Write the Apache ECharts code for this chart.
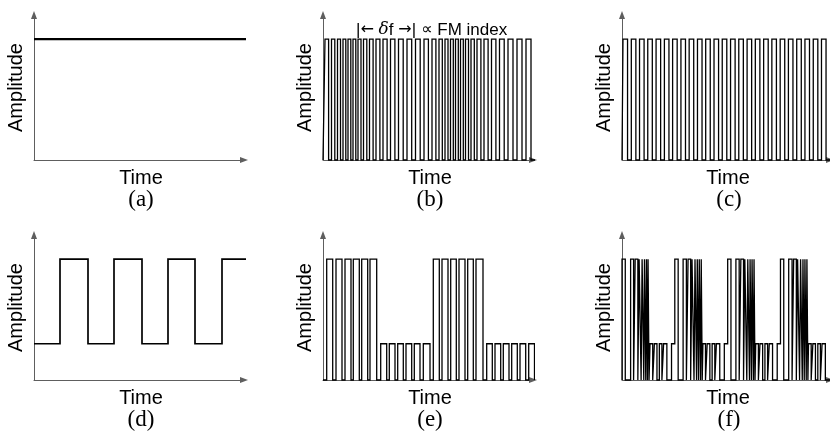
<!DOCTYPE html>
<html>
<head>
<meta charset="utf-8">
<script src="https://cdn.jsdelivr.net/npm/echarts@6/dist/echarts.min.js"></script>
<style>html,body{margin:0;padding:0;background:#fff;}#chart{width:830px;height:437px;}</style>
</head>
<body>
<div id="chart"></div>
<script>
// ---- data (time units ~ arbitrary, amplitude: 1 = full, 0.3 = reduced) ----
const panelLabels = ['(a)', '(b)', '(c)', '(d)', '(e)', '(f)'];
const xAxisName = 'Time';
const yAxisName = 'Amplitude';

// (a) constant amplitude: change times and levels
const aT = [0, 214];
const aA = [1, 1];

// (b) FM square wave: rising / falling edge times
const bRise = [2, 8.5, 14.5, 20, 25, 30, 35, 40.5, 46.5, 53, 60, 67.5, 75.5, 84, 92.5, 101, 109, 116, 122, 127.5, 132.5, 137.5, 142.5, 148, 154, 161, 168.5, 176.5, 185, 194, 203];
const bFall = [5.6, 11.8, 17.5, 22.8, 27.8, 32.8, 38, 43.8, 50.1, 56.9, 64.1, 71.9, 80.2, 88.7, 97.2, 105.4, 112.9, 119.3, 125, 130.3, 135.3, 140.3, 145.5, 151.3, 157.9, 165.1, 172.9, 181.2, 190, 199, 208];

// (c) carrier square wave
const cRise = [1, 9.4, 17.7, 26, 34.4, 42.8, 51.1, 59.5, 67.8, 76.2, 84.5, 92.9, 101.2, 109.6, 117.9, 126.3, 134.6, 143, 151.3, 159.7, 168, 176.4, 184.7, 193.1, 201.4];
const cFall = [5.6, 14, 22.3, 30.6, 39, 47.4, 55.7, 64.1, 72.4, 80.8, 89.1, 97.5, 105.8, 114.2, 122.5, 130.9, 139.2, 147.6, 155.9, 164.3, 172.6, 181, 189.3, 197.7, 206];

// (d) modulating square wave: change times and levels
const dT = [0, 26, 54, 80, 108, 134, 161, 188, 214];
const dA = [0.3, 1, 0.3, 1, 0.3, 1, 0.3, 1, 1];

// (e) AM square wave
const eRise = [3.7, 13, 22, 30.3, 38.7, 47, 57.7, 66.3, 74.7, 83, 91.3, 100.3, 110.3, 119, 127.7, 136, 144.7, 153, 163.7, 172, 180.3, 188.7, 197, 205.7];
const eFall = [9.7, 19, 28, 36.3, 44.7, 53.7, 63.7, 72, 80.3, 88.7, 97, 107, 116.3, 125, 133.3, 142, 150.3, 160, 169.3, 177.7, 186, 194.3, 202.7, 211.5];
const eAmp  = [1, 1, 1, 1, 1, 1, 0.3, 0.3, 0.3, 0.3, 0.3, 0.3, 1, 1, 1, 1, 1, 1, 0.3, 0.3, 0.3, 0.3, 0.3, 0.3];

// (f) combined AM + FM
const fRise = [0, 8.7, 13.3, 17.3, 20.3, 22.7, 24.7, 26.3, 28.3, 32.7, 37.7, 42, 50,
  53.3, 61.7, 66.7, 70.7, 73.7, 76, 78, 80, 81.7, 86, 91, 95.3, 103.3,
  106.7, 115, 120, 124, 127, 129.3, 131.3, 133.3, 135, 139.3, 144.3, 148.7, 156.7,
  160, 168.3, 173.3, 177.3, 180.3, 182.7, 184.7, 186.7, 188.3, 192.7, 197.7, 202];
const fFall = [3.3, 11.7, 16, 19.3, 22, 24, 25.7, 27.3, 31, 35.3, 40.3, 45.3, 53.3,
  56.7, 65, 69.3, 72.7, 75.3, 77.3, 79.3, 81, 84.3, 88.7, 93.7, 98.7, 106.7,
  110, 118.3, 122.7, 126, 128.7, 130.7, 132.7, 134.3, 137.7, 142, 147, 152, 160,
  163.3, 171.7, 176, 179.3, 182, 184, 186, 187.7, 191, 195.3, 200.3, 205.3];
const fAmp = [1, 1, 1, 1, 1, 1, 1, 1, 0.3, 0.3, 0.3, 0.3, 0.3,
  1, 1, 1, 1, 1, 1, 1, 1, 0.3, 0.3, 0.3, 0.3, 0.3,
  1, 1, 1, 1, 1, 1, 1, 1, 0.3, 0.3, 0.3, 0.3, 0.3,
  1, 1, 1, 1, 1, 1, 1, 1, 0.3, 0.3, 0.3, 0.3];

// ---- helpers: turn edge lists into step polylines ----
function levels(T, A) {
  const pts = [];
  for (let i = 0; i < T.length; i++) {
    if (i > 0) pts.push([T[i], A[i - 1]]);
    pts.push([T[i], A[i]]);
  }
  return pts;
}
function pulses(rises, falls, amps, end) {
  const pts = [[0, 0]];
  for (let i = 0; i < rises.length; i++) {
    const a = amps ? amps[i] : 1;
    const last = pts[pts.length - 1];
    if (last[0] === rises[i] && last[1] !== 0) {
      pts.push([rises[i], a]);
    } else {
      pts.push([rises[i], 0]);
      pts.push([rises[i], a]);
    }
    pts.push([falls[i], a]);
    if (!(i + 1 < rises.length && rises[i + 1] === falls[i])) pts.push([falls[i], 0]);
  }
  pts.push([end, 0]);
  return pts;
}

const seriesData = [
  levels(aT, aA),
  pulses(bRise, bFall, null, 214),
  pulses(cRise, cFall, null, 214),
  levels(dT, dA),
  pulses(eRise, eFall, eAmp, 212),
  pulses(fRise, fFall, fAmp, 214)
];
const lineWidths = [2.2, 1.3, 1.3, 1.7, 1.3, 1.3];

const lefts = [34, 323, 622];
const tops = [15, 235];
const grids = [], xAxes = [], yAxes = [], series = [], graphics = [];
const sans = 'Liberation Sans, Arial, Helvetica, sans-serif';
const serif = 'Liberation Serif, Times New Roman, serif';
const axisColor = '#5e5e5e';

for (let i = 0; i < 6; i++) {
  const col = i % 3, row = Math.floor(i / 3);
  grids.push({ left: lefts[col], top: tops[row], width: 210, height: 145 });
  xAxes.push({
    type: 'value', gridIndex: i, min: 0, max: 210,
    axisLine: { show: true, symbol: ['none', 'triangle'], symbolSize: [6, 8], lineStyle: { color: axisColor, width: 1 } },
    axisTick: { show: false }, axisLabel: { show: false }, splitLine: { show: false },
    name: xAxisName, nameLocation: 'middle', nameGap: 8,
    nameTextStyle: { fontSize: 20, color: '#000', fontFamily: sans, verticalAlign: 'top', padding: [0, 0, 0, 4] }
  });
  yAxes.push({
    type: 'value', gridIndex: i, min: 0, max: 1.2,
    axisLine: { show: true, onZero: false, symbol: ['none', 'triangle'], symbolSize: [6, 8], lineStyle: { color: axisColor, width: 1 } },
    axisTick: { show: false }, axisLabel: { show: false }, splitLine: { show: false },
    name: yAxisName, nameLocation: 'middle', nameGap: 8, nameRotate: 90,
    nameTextStyle: { fontSize: 20, color: '#000', fontFamily: sans }
  });
  series.push({
    type: 'line', xAxisIndex: i, yAxisIndex: i, data: seriesData[i],
    showSymbol: false, symbol: 'none', clip: false, animation: false,
    lineStyle: { color: '#000', width: lineWidths[i], join: 'miter' }, z: 3
  });
  graphics.push({
    type: 'text', x: lefts[col] + 107, y: row === 0 ? 200 : 420,
    style: { text: panelLabels[i], fill: '#000', font: '23px ' + serif, textAlign: 'center', textVerticalAlign: 'middle' }
  });
}
graphics.push({
  type: 'text', x: 356, y: 30,
  style: {
    text: '|{ar|←} {i|δ}f {ar|→}|{ar| ∝} FM index', fill: '#000', font: '17px ' + sans,
    textAlign: 'left', textVerticalAlign: 'middle',
    rich: {
      i: { fontStyle: 'italic', fontSize: 17, fontFamily: 'DejaVu Serif, serif', fill: '#000' },
      ar: { fontSize: 16, fontFamily: 'DejaVu Sans, sans-serif', fill: '#000' }
    }
  }
});

const chart = echarts.init(document.getElementById('chart'), null, { renderer: 'canvas' });
chart.setOption({
  animation: false,
  backgroundColor: '#fff',
  grid: grids, xAxis: xAxes, yAxis: yAxes, series: series, graphic: graphics
});
</script>
</body>
</html>
